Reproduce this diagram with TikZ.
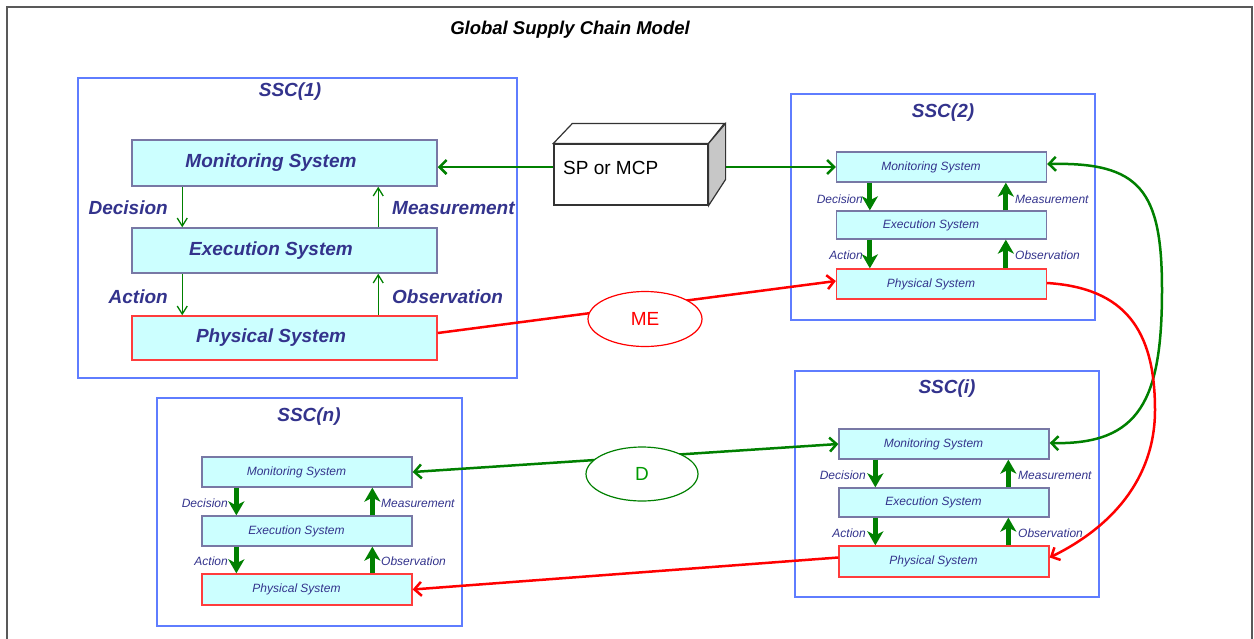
\documentclass[tikz,border=0pt]{standalone}
\usepackage{fontspec}
\setmainfont{Liberation Sans}
\usetikzlibrary{arrows.meta,shapes.geometric}
\definecolor{ink}{RGB}{51,51,140}
\definecolor{boxfill}{RGB}{204,255,255}
\definecolor{boxline}{RGB}{120,120,165}
\definecolor{frameblue}{RGB}{95,125,255}
\definecolor{gdark}{RGB}{0,128,0}
\definecolor{rline}{RGB}{255,0,0}
\definecolor{physline}{RGB}{255,60,60}
\tikzset{
  >={Straight Barb[length=7pt,width=14pt]},
  outerframe/.style={draw=black!65, line width=2pt},
  ttlstyle/.style={font=\fontsize{18.5}{22}\selectfont\bfseries\itshape, text=black, inner sep=0pt},
  frame/.style={draw=frameblue, line width=1.4pt, inner sep=0pt},
  ssct/.style={font=\fontsize{19}{22}\selectfont\bfseries\itshape, text=ink, inner sep=0pt},
  bigsys/.style={draw=boxline, line width=1.5pt, fill=boxfill, minimum width=305pt, inner sep=0pt,
    font=\fontsize{19}{22}\selectfont\bfseries\itshape, text=ink, execute at end node={\hspace*{27pt}}},
  smallsys/.style={draw=boxline, line width=1.3pt, fill=boxfill, minimum width=210pt, minimum height=30pt, inner sep=0pt,
    font=\fontsize{12}{14}\selectfont\itshape, text=ink, execute at end node={\hspace*{21pt}}},
  phys/.style={draw=physline},
  biglab/.style={font=\fontsize{19}{22}\selectfont\bfseries\itshape, text=ink, inner sep=0pt},
  smalllab/.style={font=\fontsize{12}{14}\selectfont\itshape, text=ink, inner sep=0pt},
  thinarr/.style={draw=gdark, line width=1.3pt, -{Straight Barb[length=8pt,width=10pt]}},
  thkarr/.style={draw=gdark, line width=5pt, -{Stealth[length=14pt,width=16pt,inset=4pt]}},
  garr/.style={draw=gdark, line width=2.5pt},
  rarr/.style={draw=rline, line width=2.5pt},
  spline/.style={draw=black!80, line width=1.2pt},
  oval/.style={ellipse, fill=white, line width=1.2pt, inner sep=0pt, font=\fontsize{19}{22}\selectfont}
}
\begin{document}
\begin{tikzpicture}[x=1pt,y=-1pt]
\useasboundingbox (0,0) rectangle (1254,638);
\draw[outerframe] (7,660) -- (7,7) -- (1252,7) -- (1252,660);
\node[ttlstyle] (ttl) at (570,30) {Global Supply Chain Model};

% ---------- SSC(1)
\node[frame, minimum width=439pt, minimum height=300pt] (f1) at (297.5,228) {};
\node[ssct] (t1) at (290,92) {SSC(1)};
\node[bigsys, minimum height=46pt] (m1) at (284.5,163) {Monitoring System};
\node[bigsys, minimum height=45pt] (e1) at (284.5,250.5) {Execution System};
\node[bigsys, phys, minimum height=44pt] (p1) at (284.5,338) {Physical System};
\draw[thinarr] ([xshift=51pt]m1.south west) -- ([xshift=51pt]e1.north west);
\draw[thinarr] ([xshift=51pt]e1.south west) -- ([xshift=51pt]p1.north west);
\draw[thinarr] ([xshift=247pt]e1.north west) -- ([xshift=247pt]m1.south west);
\draw[thinarr] ([xshift=247pt]p1.north west) -- ([xshift=247pt]e1.south west);
\node[biglab, anchor=east] (d1) at (168,208) {Decision};
\node[biglab, anchor=west] (ms1) at (392,208) {Measurement};
\node[biglab, anchor=east] (a1) at (168,297) {Action};
\node[biglab, anchor=west] (o1) at (392,297) {Observation};

% ---------- SSC(2)
\node[frame, minimum width=304pt, minimum height=226pt] (f2) at (943,207) {};
\node[ssct] (t2) at (943,113) {SSC(2)};
\node[smallsys] (m2) at (941.5,167) {Monitoring System};
\node[smallsys, minimum height=28pt] (e2) at (941.5,225) {Execution System};
\node[smallsys, phys] (p2) at (941.5,284) {Physical System};
\draw[thkarr] ([xshift=34pt]m2.south west) -- ([xshift=34pt]e2.north west);
\draw[thkarr] ([xshift=34pt]e2.south west) -- ([xshift=34pt]p2.north west);
\draw[thkarr] ([xshift=170pt]e2.north west) -- ([xshift=170pt]m2.south west);
\draw[thkarr] ([xshift=170pt]p2.north west) -- ([xshift=170pt]e2.south west);
\node[smalllab, anchor=east] (d2) at (863,199) {Decision};
\node[smalllab, anchor=west] (ms2) at (1015,199) {Measurement};
\node[smalllab, anchor=east] (a2) at (863,255) {Action};
\node[smalllab, anchor=west] (o2) at (1015,255) {Observation};

% ---------- SSC(i)
\node[frame, minimum width=304pt, minimum height=226pt] (fi) at (947,484) {};
\node[ssct] (ti) at (947,389) {SSC(i)};
\node[smallsys] (mi) at (944,444) {Monitoring System};
\node[smallsys, minimum height=29pt] (ei) at (944,502.5) {Execution System};
\node[smallsys, phys, minimum height=31pt] (pi) at (944,561.5) {Physical System};
\draw[thkarr] ([xshift=37pt]mi.south west) -- ([xshift=37pt]ei.north west);
\draw[thkarr] ([xshift=37pt]ei.south west) -- ([xshift=37pt]pi.north west);
\draw[thkarr] ([xshift=170pt]ei.north west) -- ([xshift=170pt]mi.south west);
\draw[thkarr] ([xshift=170pt]pi.north west) -- ([xshift=170pt]ei.south west);
\node[smalllab, anchor=east] (di) at (866,475) {Decision};
\node[smalllab, anchor=west] (msi) at (1018,475) {Measurement};
\node[smalllab, anchor=east] (ai) at (866,533) {Action};
\node[smalllab, anchor=west] (oi) at (1018,533) {Observation};

% ---------- SSC(n)
\node[frame, minimum width=305pt, minimum height=228pt] (fn) at (309.5,512) {};
\node[ssct] (tn) at (309,417) {SSC(n)};
\node[smallsys] (mn) at (307,472) {Monitoring System};
\node[smallsys] (en) at (307,531) {Execution System};
\node[smallsys, phys, minimum height=31pt] (pn) at (307,589.5) {Physical System};
\draw[thkarr] ([xshift=35pt]mn.south west) -- ([xshift=35pt]en.north west);
\draw[thkarr] ([xshift=35pt]en.south west) -- ([xshift=35pt]pn.north west);
\draw[thkarr] ([xshift=171pt]en.north west) -- ([xshift=171pt]mn.south west);
\draw[thkarr] ([xshift=171pt]pn.north west) -- ([xshift=171pt]en.south west);
\node[smalllab, anchor=east] (dn) at (228,503) {Decision};
\node[smalllab, anchor=west] (msn) at (381,503) {Measurement};
\node[smalllab, anchor=east] (an) at (228,561) {Action};
\node[smalllab, anchor=west] (on) at (381,561) {Observation};

% ---------- SP or MCP box
\node[spline, fill=white, minimum width=154pt, minimum height=61pt, inner sep=0pt] (sp) at (631,174.5) {};
\draw[spline, fill=white] (sp.north west) -- ++(19,-20) -- ++(152,0) -- (sp.north east) -- cycle;
\draw[spline, fill=black!22] (sp.north east) -- ++(17,-20) -- ++(0,56) -- (sp.south east) -- cycle;
\node[font=\fontsize{19}{22}\selectfont, inner sep=0pt, anchor=west] (spt) at (563,168) {SP or MCP};

% ---------- connectors
\draw[garr, ->] ([yshift=7.5pt]sp.west) -- ([yshift=-4pt]m1.east);
\draw[garr, ->] ([xshift=17pt,yshift=7.5pt]sp.east) -- (m2.west);
\draw[rarr, ->] ([yshift=5pt]p1.east) -- ([yshift=3pt]p2.west);
\draw[garr, <->] (mn.east) -- (mi.west);
\draw[garr, <->] ([yshift=3pt]m2.east) .. controls (1140,162) and (1162,190) .. (1162,290)
   .. controls (1162,400) and (1140,445) .. ([yshift=1pt]mi.east);
\draw[rarr, ->] ([yshift=1pt]p2.east) .. controls (1125,288) and (1155,330) .. (1155,410)
   .. controls (1155,480) and (1110,528) .. ([yshift=4pt]pi.east);
\draw[rarr, ->] ([yshift=4pt]pi.west) -- (pn.east);

% ---------- ovals
\node[oval, draw=rline, text=rline, minimum width=114pt, minimum height=55pt] (me) at (645,319) {ME};
\node[oval, draw=gdark, text=gdark!80!green, minimum width=112pt, minimum height=54pt] (dd) at (642,474) {D};
\end{tikzpicture}
\end{document}
